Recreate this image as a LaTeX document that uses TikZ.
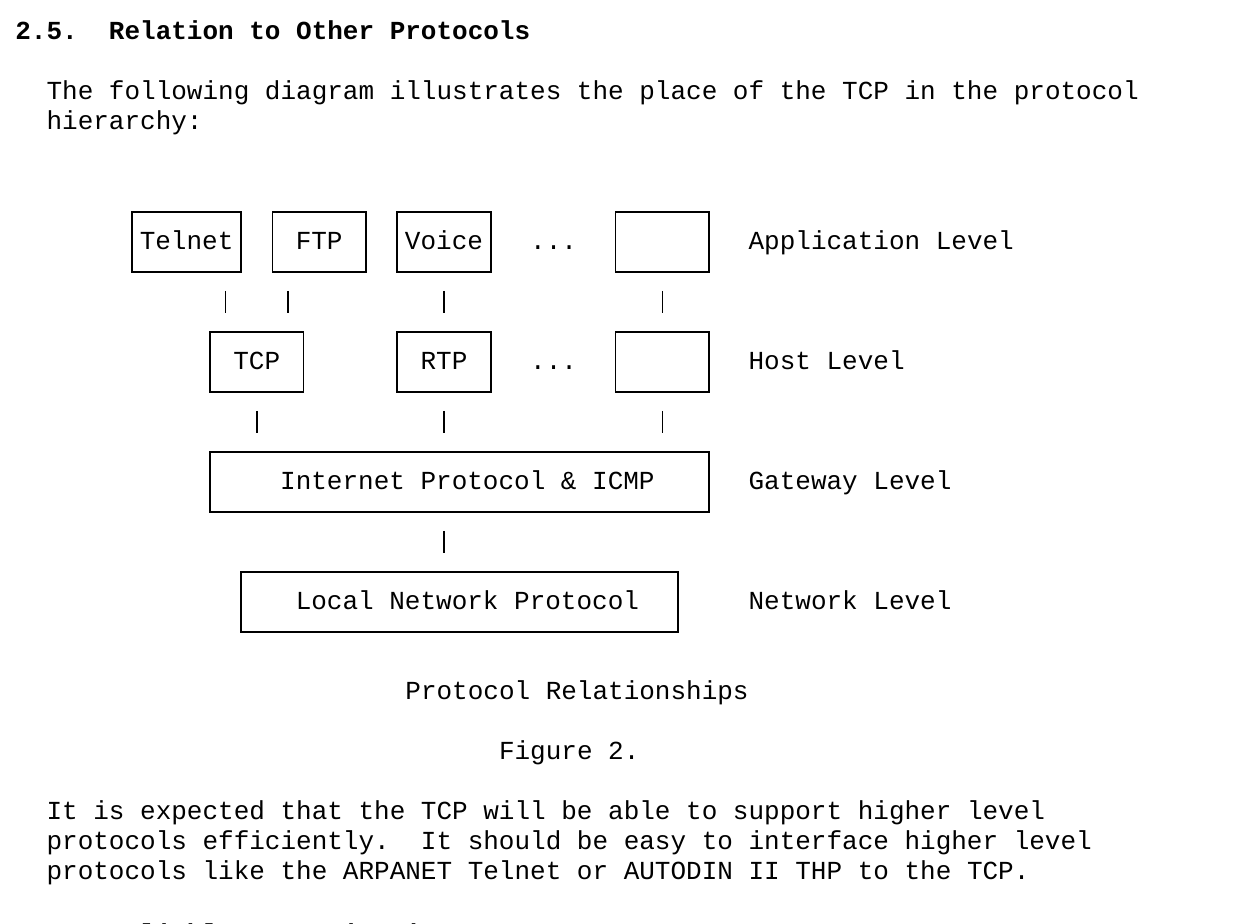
\documentclass[tikz,border=0pt]{standalone}
\usepackage{fontspec}
\setmonofont{Liberation Mono}
\usepackage{tikz}

\newcommand{\rfcfont}{\fontsize{13pt}{15pt}\selectfont\ttfamily}
\frenchspacing

\tikzset{
  txt/.style={anchor=base west, inner sep=0pt, font=\rfcfont},
  box/.style={draw, line width=.8pt, minimum height=30pt, inner sep=0pt,
    text height=8pt, text depth=0pt, font=\rfcfont},
  link/.style={line width=.8pt, shorten <=9pt, shorten >=9pt},
}

\begin{document}
\begin{tikzpicture}[x=0.5pt, y=-0.5pt]
            \useasboundingbox (0,0) rectangle (1250,924);
            % Headings
            \node[txt, font=\rfcfont\bfseries] (heading) at (15,40) {2.5.~~Relation to Other Protocols};
            \node[txt, font=\rfcfont\bfseries] (next-heading) at (15,943) {2.6.~~Reliable Communication};
            % Text lines
            \foreach \r/\c/\txt in {2/2/The following diagram illustrates the place of the TCP in the protocol,
                3/2/hierarchy:,
                22/25/Protocol Relationships,
                24/31/Figure 2.,
                26/2/It is expected that the TCP will be able to support higher level,
                27/2/protocols efficiently.~~It should be easy to interface higher level,
                28/2/protocols like the ARPANET Telnet or AUTODIN II THP to the TCP.} {
                \node[txt] (line-\r) at ({15+15.6*\c},{40+30*\r}) {\txt};
            }
            % Application Level
            \foreach \name/\a/\b/\lbl in {telnet/7/14/Telnet, ftp/16/22/FTP, voice/24/30/Voice, app/38/44/{}} {
                \node[box, minimum width={7.8pt*(\b-\a)}]
                (\name) at ({15+15.6*((\a+\b)/2+0.5)},242) {\lbl};
            }
            % Host Level
            \foreach \name/\a/\b/\lbl in {tcp/12/18/TCP, rtp/24/30/RTP, host/38/44/{}} {
                \node[box, minimum width={7.8pt*(\b-\a)}]
                (\name) at ({15+15.6*((\a+\b)/2+0.5)},362) {\lbl};
            }
            % Gateway Level
            \node[box, minimum width=249.6pt] (ip) at ({15+15.6*28.5},482)
                {\hspace*{7.8pt}Internet Protocol \& ICMP};
            % Network Level
            \node[box, minimum width=218.4pt] (lnp) at ({15+15.6*28.5},602)
                {\hspace*{7.8pt}Local Network Protocol};
            % Dots and level names
            \foreach \r in {7,11} {
                \node[txt] (dots-\r) at ({15+15.6*33},{40+30*\r}) {...};
            }
            \foreach \r/\txt in {7/Application Level, 11/Host Level, 15/Gateway Level, 19/Network Level} {
                \node[txt] (level-\r) at ({15+15.6*47},{40+30*\r}) {\txt};
            }
            % Lines
            \foreach \c in {13,15,17,27,41} {
                \coordinate (col-\c) at ({15+15.6*(\c+0.5)},0);
            }
            \foreach \from/\to/\c in {telnet/tcp/13, ftp/tcp/17, voice/rtp/27, app/host/41,
                tcp/ip/15, rtp/ip/27, host/ip/41, ip/lnp/27} {
                \draw[link] (\from.south -| col-\c) -- (\to.north -| col-\c);
            }
        \end{tikzpicture}
\end{document}
